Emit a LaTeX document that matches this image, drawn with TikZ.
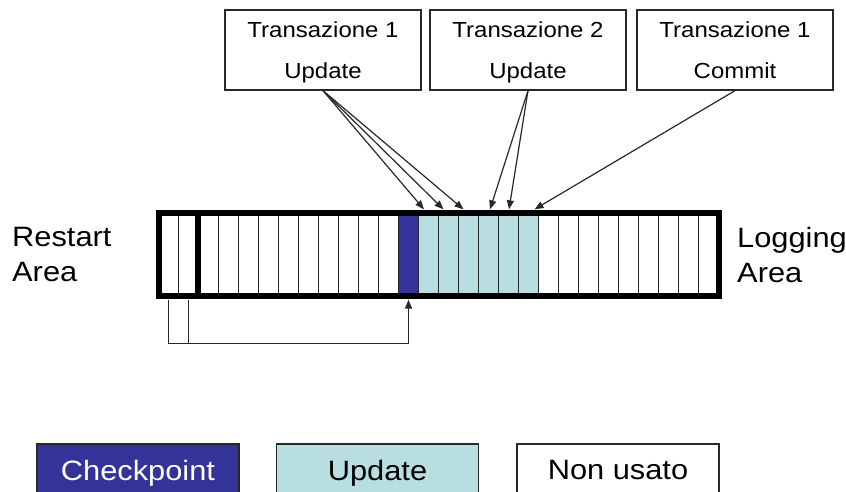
\documentclass[tikz,border=0pt]{standalone}
\usepackage{fontspec}
\setmainfont{Liberation Sans}[FakeStretch=1.1]
\usetikzlibrary{arrows.meta,calc}
\definecolor{ckblue}{RGB}{51,51,153}
\definecolor{updcyan}{RGB}{184,222,226}
\definecolor{lineg}{RGB}{40,40,40}
\tikzset{
  cell/.style={draw=lineg, line width=1.3pt, minimum width=20pt, minimum height=83pt, inner sep=0pt},
  tbox/.style={draw=lineg, line width=1.3pt, minimum width=196pt, minimum height=80pt, inner sep=0pt, align=center, text depth=0pt,
     font=\fontsize{21.8}{41}\selectfont},
  lbox/.style={draw=lineg, line width=1.3pt, minimum width=202pt, minimum height=52pt, inner sep=0pt, text depth=0pt,
     font=\fontsize{28}{34}\selectfont},
  sidelabel/.style={align=left, inner sep=0pt, anchor=west, font=\fontsize{28}{35}\selectfont},
  arr/.style={draw=lineg, line width=1.2pt, -{Triangle[length=9pt,width=7pt]}},
  conn/.style={draw=lineg, line width=1.2pt}
}
\begin{document}
\begin{tikzpicture}[x=1pt,y=-1pt]
\clip (0,0) rectangle (846,492);
\fill[white] (0,0) rectangle (846,492);
% cells
\foreach \i in {0,...,27}{
  \ifnum\i=12
    \node[cell, fill=ckblue] (c\i) at ({168.5+20*\i},254.5) {};
  \else\ifnum\i>12\ifnum\i<19
    \node[cell, fill=updcyan] (c\i) at ({168.5+20*\i},254.5) {};
  \else
    \node[cell, fill=white] (c\i) at ({168.5+20*\i},254.5) {};
  \fi\else
    \node[cell, fill=white] (c\i) at ({168.5+20*\i},254.5) {};
  \fi\fi
}
\node[draw=black, line width=6pt, minimum width=560pt, minimum height=83pt, inner sep=0pt] (bar) at (438.5,254.5) {};
\draw[black, line width=6.5pt] (c2.north west) -- (c2.south west);
% side labels
\node[sidelabel] (restart) at (12,254.5) {Restart\\Area};
\node[sidelabel] (logging) at (737,254.5) {Logging\\Area};
% top boxes
\node[tbox] (t1) at (323,50) {Transazione 1\\Update};
\node[tbox] (t2) at (528,50) {Transazione 2\\Update};
\node[tbox] (t3) at (735,50) {Transazione 1\\Commit};
% arrows from boxes
\draw[arr] (t1.south) -- ([xshift=-4.5pt,yshift=3pt]c13.north);
\draw[arr] (t1.south) -- ([xshift=-5pt,yshift=3pt]c14.north);
\draw[arr] (t1.south) -- ([xshift=-5pt,yshift=3pt]c15.north);
\draw[arr] (t2.south) -- ([xshift=1.5pt,yshift=3pt]c16.north);
\draw[arr] (t2.south) -- ([xshift=0.5pt,yshift=3pt]c17.north);
\draw[arr] (t3.south) -- ([xshift=6pt,yshift=3pt]c18.north);
% restart pointer
\coordinate (turn) at ($(c12.south)+(0,46.5)$);
\draw[conn] ([yshift=-3pt]c0.south) |- (turn);
\draw[conn] ([yshift=-3pt]c1.south) -- (c1.south |- turn);
\draw[arr] (turn) -- ([yshift=-3pt]c12.south);
% legend
\node[lbox, fill=ckblue, text=white] (lcheck) at (138,470) {Checkpoint};
\node[lbox, fill=updcyan] (lupd) at (377.5,470) {Update};
\node[lbox, fill=white] (lnon) at (618,470) {Non usato};
\end{tikzpicture}
\end{document}
